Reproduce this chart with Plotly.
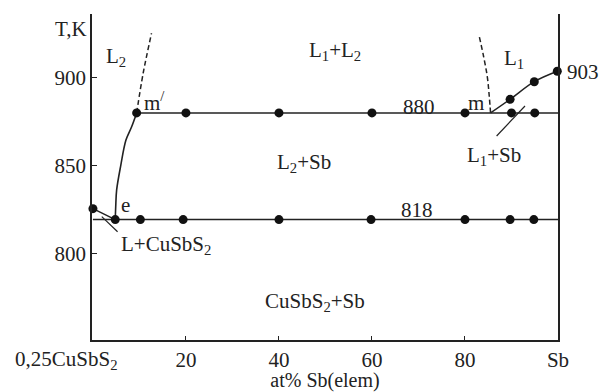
import plotly.graph_objects as go

# ---- data ----
x_tickvals = [20, 40, 60, 80, 100]
x_ticktext = ["20", "40", "60", "80", "Sb"]
y_tickvals = [800, 850, 900]

eutectic_T = 819.5
monotectic_T = 880
cusbs2_melt = 825.7

# liquidus CuSbS2 -> e
liq_left_x = [0, 4.8]
liq_left_y = [825.7, 819.5]
# L2 liquidus e -> m'
liq_l2_x = [4.8, 4.9, 5.1, 6.0, 7.1, 8.3, 9.4]
liq_l2_y = [819.5, 826.8, 836.3, 850.4, 864.6, 872, 880]
# miscibility gap (dashed)
gap_left_x = [9.4, 10.8, 12.6]
gap_left_y = [880, 902.5, 925.2]
gap_right_x = [85.5, 85.2, 84.8, 84.0, 83.0]
gap_right_y = [880, 890, 900.5, 912, 924.2]
# L1 liquidus m -> Sb
liq_l1_x = [85.5, 89.7, 94.9, 99.85]
liq_l1_y = [880, 887.7, 897.7, 903.6]
# invariant lines
line818_x = [0, 100]
line880_x = [9.4, 100]

# experimental points
pts880_x = [9.4, 20, 40, 60, 80, 90, 95]
pts818_x = [4.8, 10.2, 19.4, 40, 59.8, 80, 89.7, 94.8]
pts_liq_x = [89.7, 94.9, 99.85, 0]
pts_liq_y = [887.7, 897.7, 903.6, 825.7]

# leader lines for labels
lead_left_x = [1.9, 5.3]
lead_left_y = [821.2, 812.6]
lead_right_x = [92.9, 86.8]
lead_right_y = [883.9, 866.9]

LC = "#222222"
FONT = "Liberation Serif"
FS = 21
FT = 20

fig = go.Figure()

def line(x, y, dash="solid", w=1.5, shape="linear"):
    fig.add_trace(go.Scatter(x=x, y=y, mode="lines", showlegend=False,
                             line=dict(color=LC, width=w, dash=dash, shape=shape),
                             hoverinfo="skip"))

line(line818_x, [eutectic_T] * 2)
line(line880_x, [monotectic_T] * 2)
line(liq_left_x, liq_left_y)
line(liq_l2_x, liq_l2_y, w=1.6, shape="spline")
line(gap_left_x, gap_left_y, dash="5px,3px", shape="spline")
line(gap_right_x, gap_right_y, dash="5px,3px", shape="spline")
line(liq_l1_x, liq_l1_y, shape="spline")
line(lead_left_x, lead_left_y, w=1.2)
line(lead_right_x, lead_right_y, w=1.2)

mk = dict(color="#111111", size=9)
fig.add_trace(go.Scatter(x=pts880_x, y=[monotectic_T] * len(pts880_x), mode="markers",
                         marker=mk, showlegend=False, cliponaxis=False))
fig.add_trace(go.Scatter(x=pts818_x, y=[eutectic_T] * len(pts818_x), mode="markers",
                         marker=mk, showlegend=False, cliponaxis=False))
fig.add_trace(go.Scatter(x=pts_liq_x, y=pts_liq_y, mode="markers",
                         marker=mk, showlegend=False, cliponaxis=False))

labels = [
    ("L<sub>2</sub>", 4.9, 911.5),
    ("L<sub>1</sub>+L<sub>2</sub>", 52.0, 915.0),
    ("L<sub>1</sub>", 90.5, 910.5),
    ("m<sup>/</sup>", 13.3, 886.5),
    ("m", 82.4, 885.6),
    ("880", 70.1, 883.3),
    ("L<sub>2</sub>+Sb", 45.4, 851.5),
    ("L<sub>1</sub>+Sb", 86.2, 855.5),
    ("818", 69.7, 825.0),
    ("e", 6.9, 827.8),
    ("L+CuSbS<sub>2</sub>", 15.7, 805.0),
    ("CuSbS<sub>2</sub>+Sb", 47.7, 772.8),
]
for t, x, y in labels:
    fig.add_annotation(text=t, x=x, y=y, xref="x", yref="y", showarrow=False,
                       font=dict(family=FONT, size=FS, color=LC),
                       xanchor="center", yanchor="middle")
fig.add_annotation(text="903", x=1.015, y=903.2, xref="paper", yref="y", showarrow=False,
                   font=dict(family=FONT, size=FS, color=LC),
                   xanchor="left", yanchor="middle")
fig.add_annotation(text="T,K", x=-0.045, y=0.954, xref="paper", yref="paper",
                   showarrow=False, font=dict(family=FONT, size=FS, color=LC),
                   xanchor="center", yanchor="middle")
fig.add_annotation(text="0,25CuSbS<sub>2</sub>", x=-0.056, y=-0.062, xref="paper",
                   yref="paper", showarrow=False,
                   font=dict(family=FONT, size=FS, color=LC),
                   xanchor="center", yanchor="middle")

fig.update_layout(
    width=600, height=392,
    margin=dict(l=92, r=42, t=14, b=52),
    paper_bgcolor="white", plot_bgcolor="white",
    font=dict(family=FONT, size=FS, color=LC),
    xaxis=dict(range=[-0.2, 100], tickvals=x_tickvals, ticktext=x_ticktext,
               showgrid=False, zeroline=False, showline=True, linecolor=LC,
               linewidth=1.5, ticks="inside", ticklen=4, tickcolor=LC,
               automargin=False,
               tickfont=dict(family=FONT, size=FS, color=LC),
               title=dict(text="at% Sb(elem)", standoff=5,
                          font=dict(family=FONT, size=FT, color=LC))),
    yaxis=dict(range=[751.2, 936.1], tickvals=y_tickvals,
               showgrid=False, zeroline=False, showline=True, linecolor=LC,
               linewidth=1.5, mirror=True, ticks="inside", ticklen=5, tickcolor=LC,
               automargin=False,
               tickfont=dict(family=FONT, size=FS, color=LC)),
)

fig.write_html("out.html", config={"displayModeBar": False},
               post_script="document.body.style.margin='0px';")
